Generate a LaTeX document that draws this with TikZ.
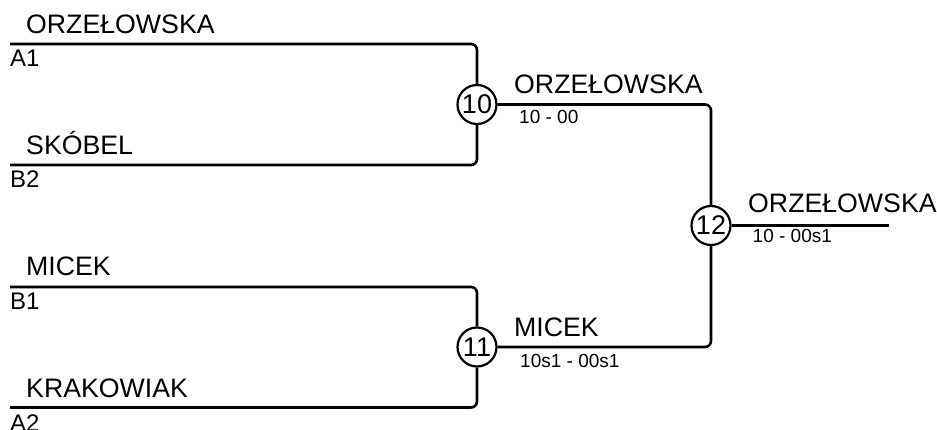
\documentclass[tikz,border=0pt]{standalone}
\usepackage{fontspec}
\setmainfont{Liberation Sans}
\begin{document}
\begin{tikzpicture}[x=1pt,y=-1pt,
  bline/.style={line width=2.6pt, rounded corners=6pt},
  match/.style={draw, circle, line width=2.2pt, minimum size=39pt, inner sep=0pt, font=\fontsize{27}{27}\selectfont},
  pname/.style={anchor=base west, inner sep=0pt, font=\fontsize{26.7}{26.7}\selectfont},
  seed/.style={anchor=base west, inner sep=0pt, font=\fontsize{24}{24}\selectfont},
  score/.style={anchor=base west, inner sep=0pt, font=\fontsize{19}{19}\selectfont}]
\useasboundingbox (0,0) rectangle (937,430);
% match circles
\node[match] (c10) at (477,104.5) {10};
\node[match] (c11) at (477,347) {11};
\node[match] (c12) at (711,225.5) {12};
% line start points
\coordinate (a1s) at (10,44);
\coordinate (b2s) at (10,165);
\coordinate (b1s) at (10,287);
\coordinate (a2s) at (10,407.5);
\coordinate (fin) at (889,225.5);
% first round
\draw[bline] (a1s) -| (c10.north);
\draw[bline] (b2s) -| (c10.south);
\draw[bline] (b1s) -| (c11.north);
\draw[bline] (a2s) -| (c11.south);
% second round
\draw[bline] (c10.east) -| (c12.north);
\draw[bline] (c11.east) -| (c12.south);
\draw[bline] (c12.east) -- (fin);
% labels
\node[pname] (n1) at (26,33.5) {ORZEŁOWSKA};
\node[seed] (s1) at (10,67) {A1};
\node[pname] (n2) at (26,155) {SKÓBEL};
\node[seed] (s2) at (10,188) {B2};
\node[pname] (n3) at (26,276) {MICEK};
\node[seed] (s3) at (10,309) {B1};
\node[pname] (n4) at (26,397.5) {KRAKOWIAK};
\node[seed] (s4) at (10,431) {A2};
\node[pname] (w10) at (514,93.5) {ORZEŁOWSKA};
\node[score] (r10) at (519,124) {10 - 00};
\node[pname] (w11) at (514,336) {MICEK};
\node[score] (r11) at (520,367.5) {10s1 - 00s1};
\node[pname] (w12) at (748,213) {ORZEŁOWSKA};
\node[score] (r12) at (752.5,242.5) {10 - 00s1};
\end{tikzpicture}
\end{document}
